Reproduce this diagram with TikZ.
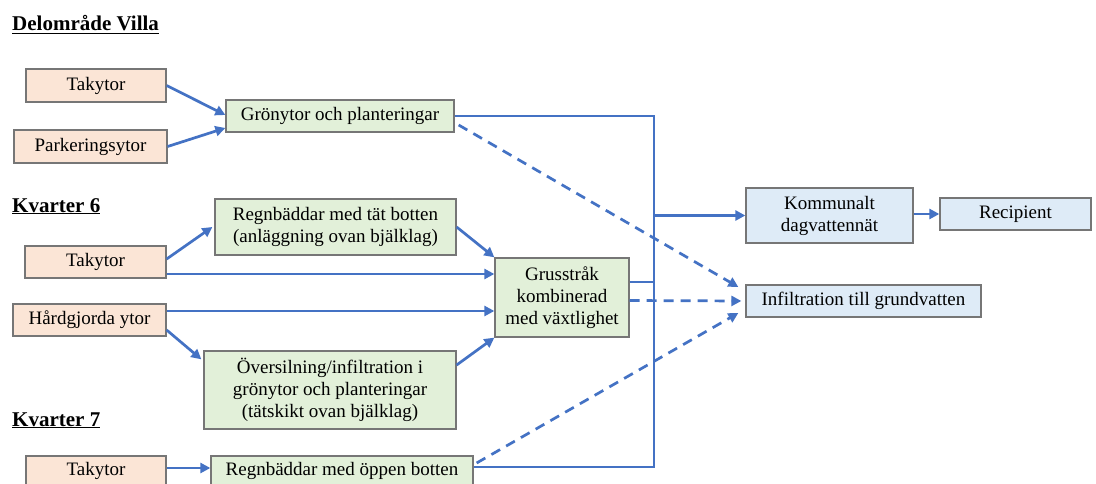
\documentclass[tikz,border=0pt]{standalone}
\usepackage{fontspec}
\setmainfont{Liberation Serif}
\usetikzlibrary{arrows.meta,calc}
\definecolor{flow}{HTML}{4472C4}
\definecolor{boxline}{HTML}{767676}
\definecolor{srcfill}{HTML}{FBE5D6}
\definecolor{grnfill}{HTML}{E2F0D9}
\definecolor{blufill}{HTML}{DEEBF7}
\tikzset{
  box/.style={draw=boxline, line width=1.3pt, inner sep=0pt, align=center, font=\fontsize{19}{22}\selectfont},
  src/.style={box, fill=srcfill},
  grn/.style={box, fill=grnfill},
  blu/.style={box, fill=blufill},
  flowline/.style={draw=flow, line width=2.7pt},
  arr/.style={flowline, -{Triangle[length=10pt,width=10pt]}},
  dsh/.style={arr, dash pattern=on 10pt off 7pt},
  hdr/.style={anchor=base west, inner sep=0pt, font=\fontsize{21}{24}\selectfont\bfseries}
}
\begin{document}
\begin{tikzpicture}[x=1pt,y=-1pt]
\useasboundingbox (0,0) rectangle (1096,484);
\clip (0,0) rectangle (1096,484);
\fill[white] (0,0) rectangle (1096,484);

% headers
\node[hdr] (h1) at (12,31) {\underline{Delområde Villa}};
\node[hdr] (h2) at (12,212) {\underline{Kvarter 6}};
\node[hdr] (h3) at (12,426) {\underline{Kvarter 7}};

% nodes
\node[src, minimum width=140pt, minimum height=33pt] (t1) at (96,85.5) {Takytor};
\node[src, minimum width=153pt, minimum height=33pt] (park) at (90.5,146.5) {Parkeringsytor};
\node[grn, minimum width=228pt, minimum height=32pt] (gron) at (340,116) {Grönytor och planteringar};
\node[grn, minimum width=241pt, minimum height=56pt] (reg1) at (335.5,227) {Regnbäddar med tät botten\\(anläggning ovan bjälklag)};
\node[src, minimum width=141pt, minimum height=32pt] (t2) at (95.5,262) {Takytor};
\node[src, minimum width=153pt, minimum height=32pt] (hard) at (89.5,320) {Hårdgjorda ytor};
\node[grn, minimum width=134pt, minimum height=79pt] (grus) at (562,297.5) {Grusstråk\\kombinerad\\med växtlighet};
\node[grn, minimum width=252pt, minimum height=78pt] (over) at (330,390) {Översilning/infiltration i\\grönytor och planteringar\\(tätskikt ovan bjälklag)};
\node[src, minimum width=140pt, minimum height=30pt] (t3) at (96,471) {Takytor};
\node[grn, minimum width=262pt, minimum height=30pt] (reg3) at (342,471) {Regnbäddar med öppen botten};
\node[blu, minimum width=167pt, minimum height=55pt] (komm) at (829.5,215.5) {Kommunalt\\dagvattennät};
\node[blu, minimum width=151pt, minimum height=32pt] (recip) at (1015.5,214) {Recipient};
\node[blu, minimum width=235pt, minimum height=32pt] (inf) at (863.5,301) {Infiltration till grundvatten};

% bus
\coordinate (bt) at (654,116);
\coordinate (bb) at (654,467);
\draw[flowline] (gron.east) -- (bt) -- (bb) -- (bb -| reg3.east);
\draw[arr] (bt |- komm.west) -- (komm.west);
\draw[flowline] ([yshift=15.5pt]grus.east) coordinate (g1) -- (g1 -| bt);
\draw[arr] (komm.east |- recip.west) -- (recip.west);

% dashed to infiltration
\draw[dsh] ([xshift=4pt,yshift=-9pt]gron.east) -- ([xshift=-7pt,yshift=14pt]inf.west);
\draw[dsh] ([yshift=-3pt]grus.east) -- ([xshift=-4pt]inf.west);
\draw[dsh] ([xshift=3pt,yshift=8pt]reg3.east) -- ([xshift=-7pt,yshift=-12pt]inf.west);

% Delområde Villa
\draw[arr] (t1.east) -- ([yshift=1pt]gron.west);
\draw[arr] (park.east) -- ([yshift=-12pt]gron.west);

% Kvarter 6
\draw[arr] ([yshift=3pt]t2.east) -- ([xshift=-2pt]reg1.west);
\draw[arr] ([yshift=-12pt]t2.east) coordinate (a) -- (a -| grus.west);
\draw[arr] ([yshift=9pt]hard.east) coordinate (b) -- (b -| grus.west);
\draw[arr] ([yshift=-10pt]hard.east) -- ([xshift=-2pt,yshift=-9pt]over.north west);
\draw[arr] (reg1.east) -- (grus.north west);
\draw[arr] ([yshift=25pt]over.east) -- (grus.south west);

% Kvarter 7
\draw[arr] ([yshift=3pt]t3.east) coordinate (c) -- (c -| reg3.west);
\end{tikzpicture}
\end{document}
